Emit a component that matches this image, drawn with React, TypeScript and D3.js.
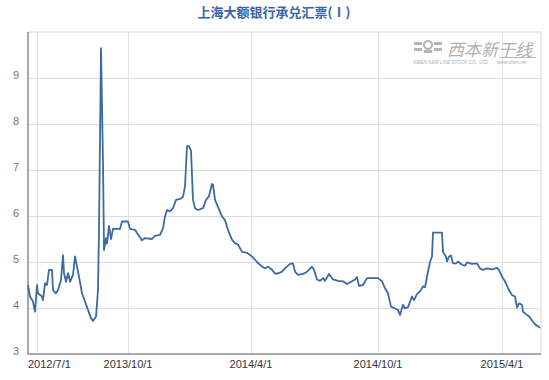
import React from "react";
import * as d3 from "d3";

const title = "上海大额银行承兑汇票(Ⅰ)";
const dayIdx = [0,2,5,7,9,10,14,15,17,19,21,24,25,28,30,33,35,36,38,40,42,45,47,49,51,54,57,60,63,65,68,70,71,73,75,76,78,79,81,83,85,92,94,100,102,107,109,114,117,124,127,132,135,137,139,142,145,148,152,155,157,159,161,163,165,167,170,175,178,181,184,185,187,190,194,197,200,204,207,210,214,219,224,229,234,237,240,244,247,250,254,257,262,265,267,270,275,279,284,286,289,292,295,297,301,305,310,315,319,324,327,329,331,335,339,345,350,354,357,360,363,367,370,372,375,377,380,384,386,389,392,395,397,399,402,404,405,414,415,418,419,421,423,425,428,430,434,437,439,444,449,452,455,459,464,469,471,474,477,480,484,487,489,491,494,495,499,501,505,508,512];
const rate = [4.5,4.25,4.14,3.92,4.5,4.32,4.25,4.17,4.54,4.5,4.83,4.83,4.39,4.32,4.39,4.61,5.15,4.76,4.57,4.76,4.57,4.72,5.12,4.9,4.68,4.32,4.14,3.96,3.78,3.72,3.81,4.39,5.7,9.65,7.15,5.26,5.52,5.4,5.78,5.5,5.72,5.72,5.88,5.88,5.72,5.7,5.63,5.47,5.52,5.5,5.57,5.59,5.73,5.99,6.13,6.1,6.17,6.35,6.37,6.42,6.64,7.52,7.52,7.42,6.35,6.17,6.13,6.17,6.35,6.43,6.7,6.68,6.35,6.2,5.99,5.91,5.7,5.48,5.41,5.38,5.22,5.2,5.12,5.0,4.9,4.86,4.9,4.83,4.75,4.75,4.79,4.86,4.96,4.97,4.79,4.72,4.74,4.79,4.9,4.83,4.62,4.59,4.65,4.59,4.74,4.62,4.59,4.58,4.52,4.58,4.62,4.67,4.48,4.5,4.65,4.65,4.65,4.58,4.43,4.32,4.03,3.99,3.96,3.85,4.07,3.99,4.02,4.25,4.17,4.3,4.36,4.47,4.45,4.68,5.0,5.12,5.64,5.64,5.22,5.12,5.01,5.12,5.14,4.97,4.97,5.01,4.94,4.92,4.99,4.96,4.97,4.86,4.83,4.86,4.84,4.87,4.83,4.68,4.58,4.43,4.28,4.25,4.01,4.1,4.07,3.92,3.85,3.82,3.7,3.63,3.57];
const xTickIdx = [9, 100, 223, 350, 474];
const xTickLabels = ["2012/7/1", "2013/10/1", "2014/4/1", "2014/10/1", "2015/4/1"];
const yTicks = [3, 4, 5, 6, 7, 8, 9];

export default function App() {
  const W = 549, H = 380;
  const left = 28, right = 541, top = 32, bottom = 354;
  const x = d3.scaleLinear().domain([0, 512]).range([left, 540]);
  const y = d3.scaleLinear().domain([3, 10]).range([bottom, top]);
  const pts = dayIdx.map((d, i) => [d, rate[i]] as [number, number]);
  const line = d3.line<[number, number]>().x(d => x(d[0])).y(d => y(d[1]));
  const path = line(pts) || "";
  return (
    <svg width={W} height={H} style={{ position: "absolute", left: 0, top: 0, background: "#fff" }}
      fontFamily="'Liberation Sans', Arial, sans-serif">
      <text x={274} y={17} textAnchor="middle" fontSize={13} fontWeight="bold" fill="#3a64a6"
        fontFamily="'Noto Sans CJK SC', sans-serif">{title}</text>
      {/* frame */}
      <rect x={left} y={top} width={right - left} height={bottom - top} fill="none" stroke="#d8d8d8" strokeWidth={1} />
      {yTicks.map(t => (
        <line key={"gy" + t} x1={left} x2={right} y1={Math.round(y(t)) + 0.5} y2={Math.round(y(t)) + 0.5} stroke="#dcdcdc" />
      ))}
      {xTickIdx.map((t, i) => (
        <line key={"gx" + i} x1={Math.round(x(t)) + 0.5} x2={Math.round(x(t)) + 0.5} y1={top} y2={bottom} stroke="#e2e2e2" />
      ))}
      {/* watermark */}
      <g fill="#b5b5b5" stroke="none">
        <rect x={414} y={42} width={8} height={3} />
        <rect x={414} y={48} width={8} height={3} />
        <circle cx={428} cy={45} r={4} fill="none" stroke="#b5b5b5" strokeWidth={2} />
        <rect x={424} y={50} width={8} height={3} />
        <rect x={434} y={42} width={8} height={3} />
        <rect x={434} y={48} width={8} height={3} />
        <text x={447} y={56} fontSize={17} fontStyle="italic" fontFamily="'Noto Sans CJK SC', sans-serif" fill="#b0b0b0">西本新干线</text>
        <rect x={500} y={57} width={36} height={1} />
        <text x={413} y={64} fontSize={4.6} fontStyle="italic" fill="#b0b0b0">XIBEN NEW LINE STOCK CO., LTD.</text>
        <text x={497} y={64} fontSize={4.6} fontStyle="italic" fill="#b0b0b0">www.xiben.net</text>
      </g>
      {/* axes */}
      <line x1={left} x2={left} y1={top} y2={bottom + 1} stroke="#a8a8a8" strokeWidth={2} />
      <line x1={left - 1} x2={right} y1={bottom} y2={bottom} stroke="#a8a8a8" strokeWidth={2} />
      {yTicks.map(t => (
        <text key={"ty" + t} x={19} y={y(t) + 0.5} textAnchor="end" fontSize={11} fill="#777">{t}</text>
      ))}
      {xTickIdx.map((t, i) => (
        <text key={"tx" + i} x={i === 0 ? 28 : x(t)} y={368} textAnchor={i === 0 ? "start" : "middle"} fontSize={11} fill="#333">{xTickLabels[i]}</text>
      ))}
      <path d={path} fill="none" stroke="#3d6aa0" strokeWidth={1.8} strokeLinejoin="round" />
    </svg>
  );
}
